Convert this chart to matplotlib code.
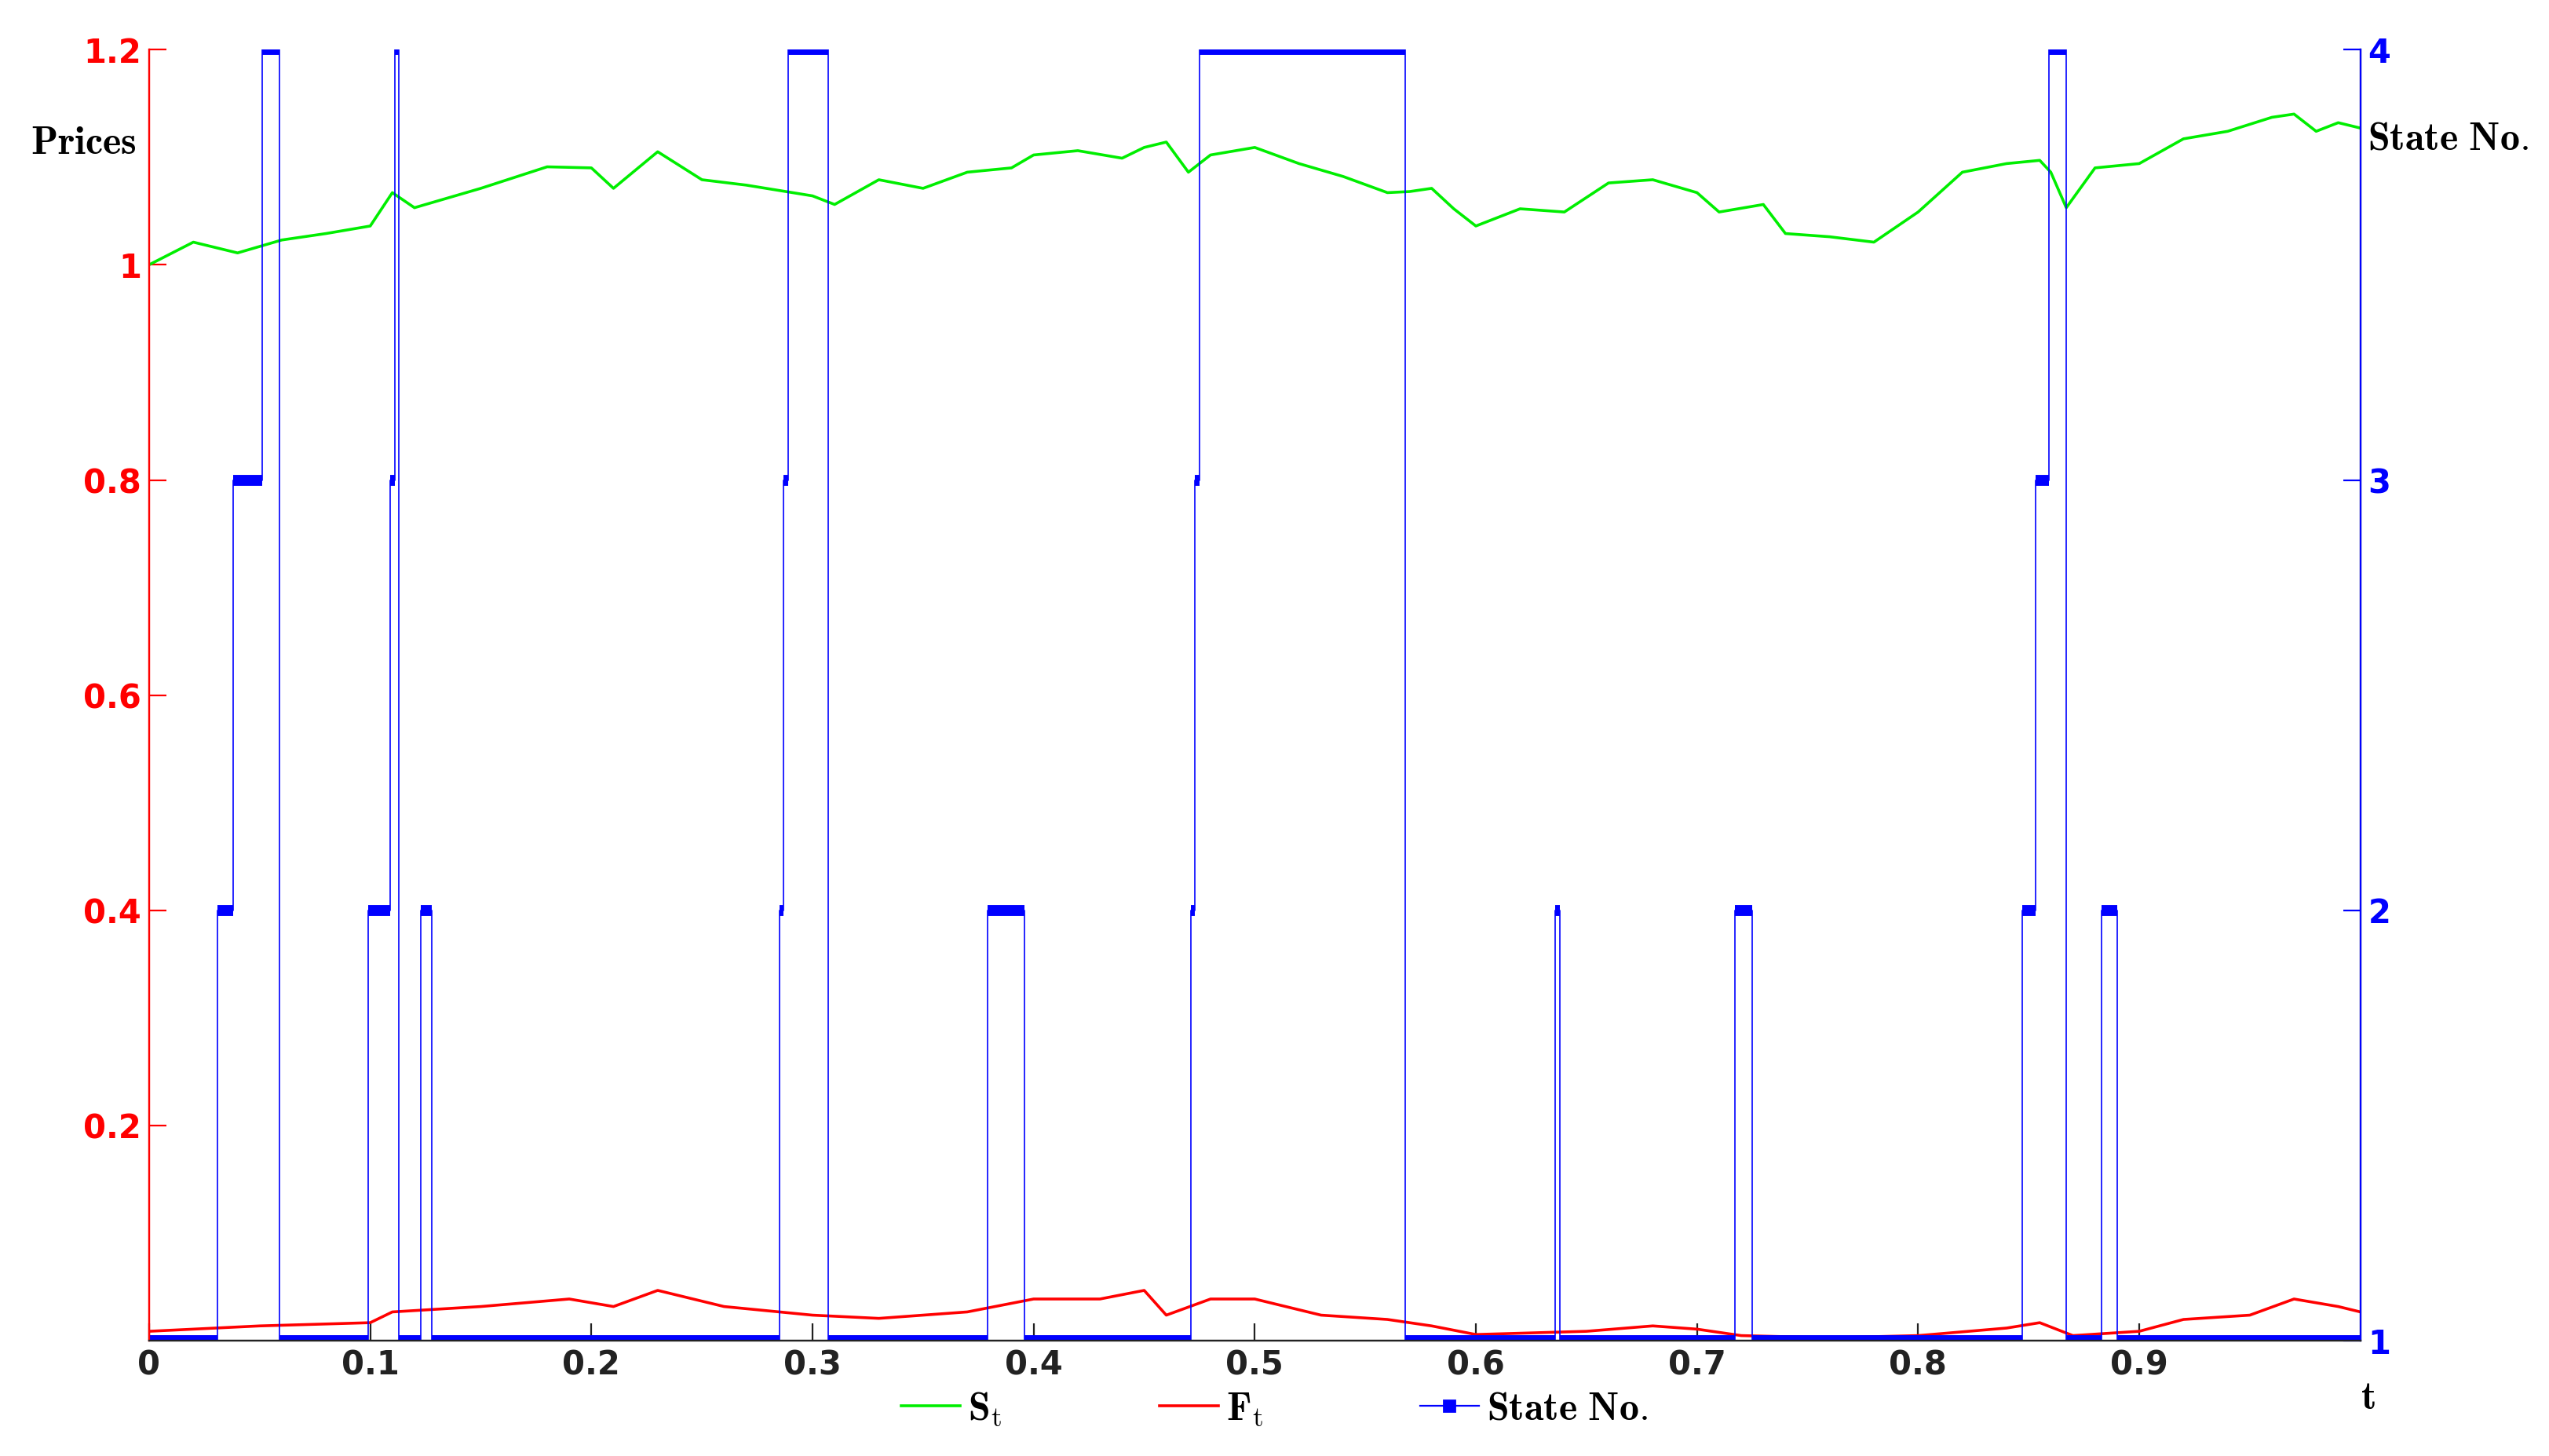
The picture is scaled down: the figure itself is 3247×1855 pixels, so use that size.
import numpy as np
import matplotlib
matplotlib.use("Agg")
import matplotlib.pyplot as plt

plt.rcParams["mathtext.fontset"] = "cm"

# price path S_t (waypoints)
s_t = [0, .02, .04, .06, .08, .1, .11, .12, .15, .18, .2, .21, .23, .25, .27, .3, .31,
       .33, .35, .37, .39, .4, .42, .44, .45, .46, .47, .48, .5, .52, .54, .56, .57, .58,
       .59, .6, .62, .64, .66, .68, .7, .71, .73, .74, .76, .78, .8, .82, .84, .855, .86,
       .867, .88, .9, .92, .94, .96, .97, .98, .99, 1.0]
s_v = [1.0, 1.021, 1.011, 1.023, 1.029, 1.036, 1.067, 1.053, 1.071, 1.091, 1.09, 1.071,
       1.105, 1.079, 1.074, 1.064, 1.056, 1.079, 1.071, 1.086, 1.09, 1.102, 1.106, 1.099,
       1.109, 1.114, 1.086, 1.102, 1.109, 1.094, 1.082, 1.067, 1.068, 1.071, 1.052, 1.036,
       1.052, 1.049, 1.076, 1.079, 1.067, 1.049, 1.056, 1.029, 1.026, 1.021, 1.049, 1.086,
       1.094, 1.097, 1.086, 1.053, 1.09, 1.094, 1.117, 1.124, 1.137, 1.14, 1.124, 1.132, 1.127]

# F_t
f_t = [0, .05, .1, .11, .15, .19, .21, .23, .26, .3, .33, .37, .4, .43, .45, .46, .48, .5,
       .53, .56, .58, .6, .65, .68, .7, .72, .76, .8, .84, .855, .87, .9, .92, .95, .97, .99, 1.0]
f_v = [.009, .014, .017, .027, .032, .039, .032, .047, .032, .024, .021, .027, .039, .039,
       .047, .024, .039, .039, .024, .02, .014, .006, .009, .014, .011, .005, .003, .005,
       .012, .017, .005, .009, .02, .024, .039, .032, .027]

# regime state: switch times and state held from that time
st_start = [0, .031, .038, .051, .059, .099, .109, .111, .113, .123, .128, .285, .287, .289,
            .307, .379, .396, .471, .473, .475, .568, .636, .638, .717, .725, .847, .853,
            .859, .867, .883, .890]
st_state = [1, 2, 3, 4, 1, 2, 3, 4, 1, 2, 1, 2, 3, 4, 1, 2, 1, 2, 3, 4, 1, 2, 1, 2, 1, 2,
            3, 4, 1, 2, 1]

fig = plt.figure(figsize=(16.235, 9.275), dpi=200)
ax = fig.add_axes([0.0585, 0.079, 0.8675, 0.887])
ax2 = ax.twinx()

ax.plot(s_t, s_v, color="#00ee00", lw=1.3, label=r"$\mathbf{S}_\mathrm{t}$")
ax.plot(f_t, f_v, color="red", lw=1.3, label=r"$\mathbf{F}_\mathrm{t}$")

t_end = st_start[1:] + [1.0]
xs = [st_start[0]] + t_end
ys = st_state + [st_state[-1]]
ax2.step(xs, ys, where="post", color="blue", lw=0.6)
ax2.hlines(st_state, st_start, t_end, color="blue", lw=5, capstyle="butt")
ax2.plot([], [], color="blue", lw=0.8, marker="s", ms=5, label=r"$\mathbf{State\ No.}$")

ax.set_xlim(0, 1)
ax.set_ylim(0, 1.2)
ax2.set_ylim(1, 4)
ax.set_xticks(np.arange(0, 1.0, 0.1))
ax.set_xticklabels(["0"] + [f"{x:.1f}" for x in np.arange(0.1, 1.0, 0.1)])
ax.set_yticks([0.2, 0.4, 0.6, 0.8, 1.0, 1.2])
ax.set_yticklabels(["0.2", "0.4", "0.6", "0.8", "1", "1.2"])
ax2.set_yticks([1, 2, 3, 4])

tk = dict(fontsize=15, fontweight="bold", family="Liberation Sans Narrow")
for lab in ax.get_xticklabels():
    lab.set(**tk, color="#222222")
for lab in ax.get_yticklabels():
    lab.set(**tk, color="red")
for lab in ax2.get_yticklabels():
    lab.set(**tk, color="blue")

ax.tick_params(axis="x", direction="in", length=8, color="#222222")
ax.tick_params(axis="y", direction="in", length=8, color="red")
ax2.tick_params(axis="y", direction="in", length=8, color="blue")
for a in (ax, ax2):
    a.spines["top"].set_visible(False)
ax.spines["left"].set_color("red")
ax2.spines["left"].set_color("red")
ax2.spines["right"].set_color("blue")
ax.spines["bottom"].set_color("#222222")
ax2.spines["bottom"].set_color("#222222")

fig.text(0.012, 0.902, r"$\mathbf{Prices}$", fontsize=18, va="center")
fig.text(0.929, 0.905, r"$\mathbf{State\ No.}$", fontsize=18, va="center")
fig.text(0.926, 0.04, r"$\mathbf{t}$", fontsize=18, va="center")

h1, l1 = ax.get_legend_handles_labels()
h2, l2 = ax2.get_legend_handles_labels()
fig.legend(h1 + h2, l1 + l2, loc="lower center", bbox_to_anchor=(0.5, -0.005), ncol=3,
           frameon=False, fontsize=18, handlelength=1.5, handletextpad=0.2,
           columnspacing=4)

fig.savefig("out.png", dpi=200)
